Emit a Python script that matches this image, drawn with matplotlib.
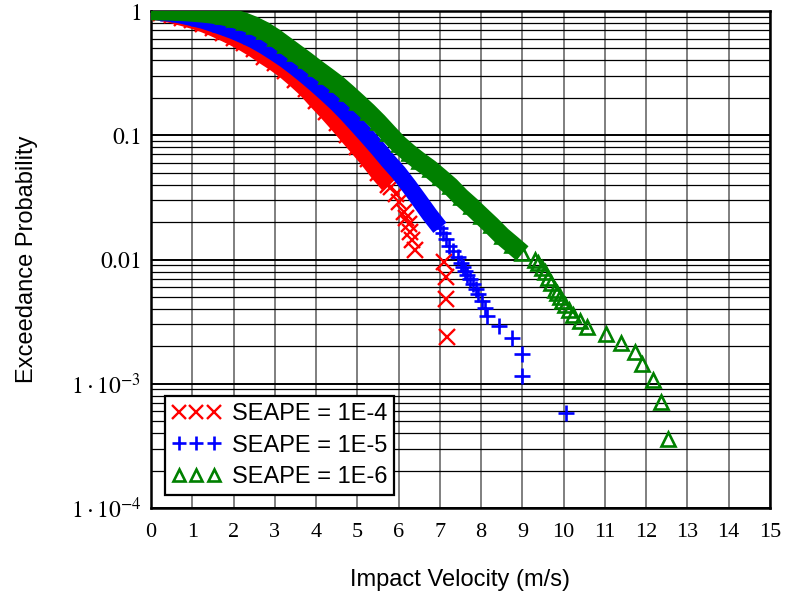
"""Exceedance probability of impact velocity for three SEAPE levels."""

import numpy as np
import matplotlib
matplotlib.use("Agg")
import matplotlib.pyplot as plt
from matplotlib.lines import Line2D
from matplotlib.ticker import LogLocator, NullFormatter, FixedLocator

# --- data --------------------------------------------------------------------
# dense part of each curve (markers overlap into a solid band)
red_dense_v = [0, 0.25, 0.5, 0.75, 1.0, 1.25, 1.5, 1.75, 2.0, 2.25, 2.5, 2.75, 3.0,
               3.25, 3.5, 3.75, 4.0, 4.25, 4.5, 4.75, 5.0, 5.25, 5.5, 5.75]
red_dense_p = [1.0, 0.97, 0.93, 0.885, 0.84, 0.79, 0.73, 0.67, 0.61, 0.55, 0.49, 0.43,
               0.38, 0.33, 0.28, 0.235, 0.19, 0.155, 0.125, 0.1, 0.08, 0.064, 0.05, 0.04]
# sparse tail, individual markers
red_tail_v = [5.82, 5.93, 6.02, 6.12, 6.18, 6.24, 6.28, 6.33, 6.4, 7.1, 7.14, 7.15, 7.17]
red_tail_p = [0.0384, 0.0336, 0.0288, 0.024, 0.0216, 0.0192, 0.0168, 0.0144, 0.012,
              0.0096, 0.0072, 0.0048, 0.0024]

blue_dense_v = [0, 0.25, 0.5, 0.75, 1.0, 1.25, 1.5, 1.75, 2.0, 2.25, 2.5, 2.75, 3.0,
                3.25, 3.5, 3.75, 4.0, 4.25, 4.5, 4.75, 5.0, 5.25, 5.5, 5.75, 6.0,
                6.25, 6.5, 6.75, 7.0]
blue_dense_p = [1.0, 0.97, 0.95, 0.92, 0.88, 0.84, 0.79, 0.74, 0.69, 0.635, 0.58, 0.52,
                0.46, 0.405, 0.35, 0.3, 0.255, 0.215, 0.18, 0.148, 0.12, 0.097, 0.078,
                0.062, 0.05, 0.039, 0.03, 0.023, 0.018]
blue_tail_v = [7.07, 7.14, 7.22, 7.33, 7.43, 7.5, 7.55, 7.6, 7.66, 7.73, 7.81, 7.87,
               7.93, 8.01, 8.09, 8.15, 8.44, 8.76, 8.98, 8.99, 10.05]
blue_tail_p = [0.0163, 0.0145, 0.0128, 0.0116, 0.0105, 0.0093, 0.00872, 0.00814,
               0.00756, 0.00698, 0.0064, 0.00581, 0.00523, 0.00465, 0.00407, 0.00349,
               0.00291, 0.00233, 0.00174, 0.00116, 0.000581]

green_dense_v = [0, 0.25, 0.5, 0.75, 1.0, 1.25, 1.5, 1.75, 2.0, 2.25, 2.5, 2.75, 3.0,
                 3.25, 3.5, 3.75, 4.0, 4.25, 4.5, 4.75, 5.0, 5.25, 5.5, 5.75, 6.0,
                 6.25, 6.5, 6.75, 7.0, 7.25, 7.5, 7.75, 8.0, 8.25, 8.5, 8.75, 9.0]
green_dense_p = [1.0, 0.998, 0.995, 0.988, 0.975, 0.96, 0.94, 0.91, 0.87, 0.82, 0.76,
                 0.69, 0.61, 0.53, 0.46, 0.4, 0.345, 0.3, 0.26, 0.22, 0.185, 0.155,
                 0.128, 0.104, 0.085, 0.072, 0.062, 0.054, 0.046, 0.039, 0.032, 0.027,
                 0.0225, 0.0188, 0.0155, 0.0132, 0.0112]
green_tail_v = [9.3, 9.38, 9.47, 9.55, 9.62, 9.7, 9.8, 9.85, 9.9, 9.96, 10.04, 10.12,
                10.23, 10.4, 10.56, 11.02, 11.38, 11.73, 11.91, 12.16, 12.36, 12.54]
green_tail_p = [0.01, 0.00929, 0.00857, 0.00786, 0.00714, 0.00643, 0.00571, 0.00536,
                0.005, 0.00464, 0.00429, 0.00393, 0.00357, 0.00321, 0.00286, 0.0025,
                0.00214, 0.00179, 0.00143, 0.00107, 0.000714, 0.000357]

labels = ["SEAPE = 1E-4", "SEAPE = 1E-5", "SEAPE = 1E-6"]
x_ticks = list(range(0, 16))
y_ticks = [1e-4, 1e-3, 1e-2, 1e-1, 1]
y_tick_labels = [r"$1\cdot10^{-4}$", r"$1\cdot10^{-3}$", r"$0.01$", r"$0.1$", r"$1$"]

# --- styling -----------------------------------------------------------------
plt.rcParams["font.family"] = ["Liberation Sans", "DejaVu Sans"]
plt.rcParams["mathtext.fontset"] = "stix"

RED, BLUE, GREEN = "#ff0000", "#0000ff", "#008000"
series = [
    # dense v/p, tail v/p, colour, marker, size, edge width, band width
    (red_dense_v, red_dense_p, red_tail_v, red_tail_p, RED, "x", 11, 1.7, 12),
    (blue_dense_v, blue_dense_p, blue_tail_v, blue_tail_p, BLUE, "+", 12, 1.9, 12),
    (green_dense_v, green_dense_p, green_tail_v, green_tail_p, GREEN, "^", 9.5, 1.9, 13.5),
]

fig = plt.figure(figsize=(7.85, 5.99), dpi=100)
ax = fig.add_axes([151 / 785, 1 - 508 / 599, 619 / 785, 497 / 599])

handles = []
for z, (dv, dp, tv, tp, col, mk, ms, mew, bw) in enumerate(series):
    mfc = "none" if mk == "^" else col
    ax.plot(dv, dp, color=col, lw=bw, solid_capstyle="butt", solid_joinstyle="round",
            zorder=3 + z)
    ax.plot(dv + tv, dp + tp, ls="none", marker=mk, ms=ms, mew=mew, color=col,
            mfc=mfc, zorder=3 + z)
    handles.append(Line2D([], [], ls="none", marker=mk, ms=ms - 1.5, mew=mew,
                          color=col, mfc=mfc))

ax.set_xlim(0, 15)
ax.set_yscale("log")
ax.set_ylim(1e-4, 1)

ax.xaxis.set_major_locator(FixedLocator(x_ticks))
ax.set_xticklabels([str(t) for t in x_ticks], family="Liberation Serif", fontsize=16)
ax.yaxis.set_major_locator(FixedLocator(y_ticks))
ax.set_yticklabels(y_tick_labels, fontsize=17)
ax.yaxis.set_minor_locator(LogLocator(base=10, subs=np.arange(2, 10), numticks=100))
ax.yaxis.set_minor_formatter(NullFormatter())
ax.tick_params(which="both", length=0)
ax.tick_params(axis="x", pad=11)
ax.tick_params(axis="y", pad=7)

ax.grid(True, axis="x", which="major", color="#7f7f7f", lw=1.4)
ax.grid(True, axis="y", which="major", color="black", lw=1.4)
ax.grid(True, axis="y", which="minor", color="black", lw=0.9)
ax.set_axisbelow(True)
for s in ax.spines.values():
    s.set_linewidth(1.8)
    s.set_color("black")

ax.set_xlabel("Impact Velocity (m/s)", fontsize=17)
ax.set_ylabel("Exceedance Probability", fontsize=17)
ax.xaxis.set_label_coords(0.5, -0.123)
ax.yaxis.set_label_coords(-0.183, 0.5)

leg = ax.legend(handles, labels, loc="lower left", bbox_to_anchor=(0.022, 0.026),
                borderaxespad=0, numpoints=3, fontsize=17, frameon=True,
                fancybox=False, framealpha=1, edgecolor="black", handlelength=2.1,
                handletextpad=0.45, labelspacing=0.4, borderpad=0.3)
leg.get_frame().set_linewidth(1.6)
leg.set_zorder(10)

fig.savefig("out.png", dpi=100)
